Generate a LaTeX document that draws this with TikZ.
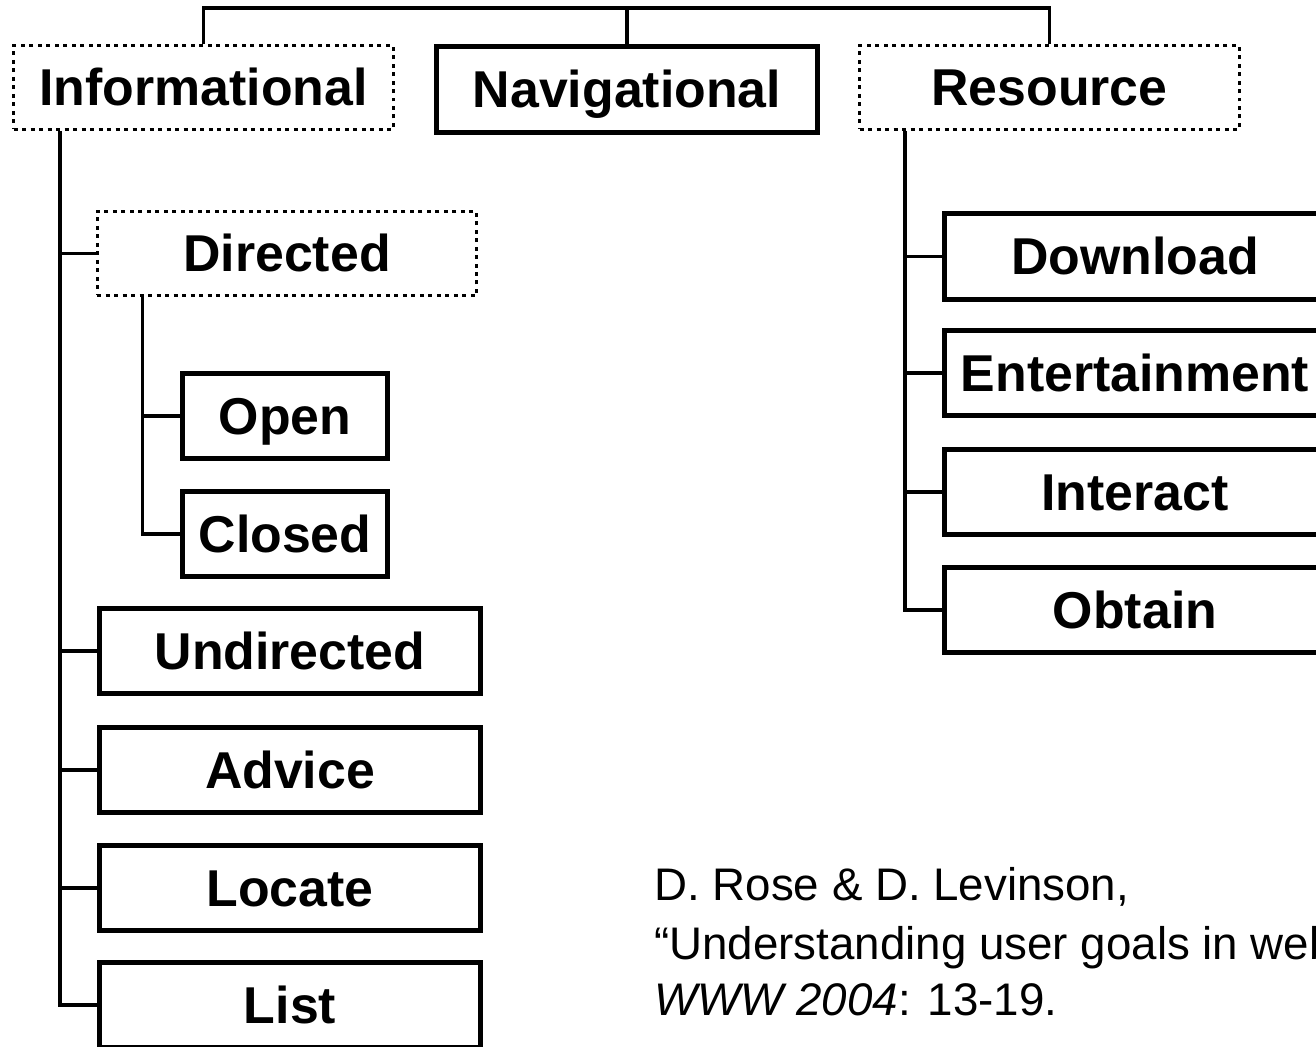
\documentclass[tikz,border=0pt]{standalone}
\usepackage{fontspec}
\setmainfont{Liberation Sans}

\begin{document}
\begin{tikzpicture}[
    x=0.02cm, y=-0.02cm,
    goal/.style={draw=black, line width=0.1cm, minimum width=7.62cm, minimum height=1.72cm,
        inner sep=0pt, font=\fontsize{29.5}{34}\selectfont\bfseries, text height=21pt, text depth=0pt},
    small goal/.style={goal, minimum width=4.1cm, minimum height=1.7cm},
    group/.style={goal, line width=0.06cm, dash pattern=on 0.08cm off 0.09cm,
        minimum width=7.6cm, minimum height=1.68cm},
    link/.style={line width=0.065cm},
    cite/.style={anchor=base west, inner sep=0pt, font=\fontsize{26}{33}\selectfont}
]

\useasboundingbox (0,0) rectangle (1316,1047);
\clip (0,0) rectangle (1316,1047);

% top level
\node[group] (info) at (203.5,87.5) {Informational};
\node[goal] (nav) at (627,89.5) {Navigational};
\node[group] (res) at (1049.5,87.5) {Resource};

\coordinate (top) at (627,8);
\draw[link] (info.north) |- (top) -| (res.north);
\draw[link] (nav.north) -- (top);

% informational
\node[group] (directed) at (287,253.5) {Directed};
\node[small goal] (open) at (285,416) {Open};
\node[small goal] (closed) at (285,534) {Closed};
\node[goal] (undirected) at (290,651) {Undirected};
\node[goal] (advice) at (290,770) {Advice};
\node[goal] (locate) at (290,888) {Locate};
\node[goal] (list) at (290,1005) {List};

\coordinate (itrunk) at ([xshift=0.96cm]info.south west);
\draw[link] (itrunk) |- (list.west);
\foreach \n in {directed,undirected,advice,locate}
    \draw[link] (itrunk |- \n.west) -- (\n.west);

\coordinate (dtrunk) at ([xshift=0.94cm]directed.south west);
\draw[link] (dtrunk) |- (closed.west);
\draw[link] (dtrunk |- open.west) -- (open.west);

% resource
\node[goal] (download) at (1135,256.5) {Download};
\node[goal] (entertain) at (1135,373) {Entertainment};
\node[goal] (interact) at (1135,492) {Interact};
\node[goal] (obtain) at (1135,610) {Obtain};

\coordinate (rtrunk) at ([xshift=0.94cm]res.south west);
\draw[link] (rtrunk) |- (obtain.west);
\foreach \n in {download,entertain,interact}
    \draw[link] (rtrunk |- \n.west) -- (\n.west);

% reference
\node[cite] (ref1) at (654,900) {D. Rose \& D. Levinson,};
\node[cite] (ref2) at (654,959) {“Understanding user goals in web search,”};
\node[cite] (ref3) at (654,1015) {\textit{WWW 2004}: 13-19.};

\end{tikzpicture}
\end{document}
